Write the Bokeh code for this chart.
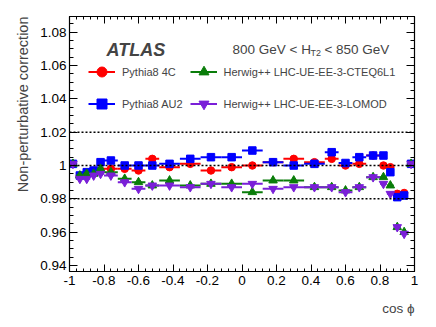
import numpy as np
from bokeh.plotting import figure
from bokeh.models import (Range1d, LinearAxis, FixedTicker, Span, Label, Legend,
                          LegendItem, Title, ColumnDataSource, CustomJSTickFormatter)
from bokeh.embed import file_html
from bokeh.resources import INLINE

# ---------------- data ----------------
bin_edges = [-1.0, -0.96, -0.92, -0.88, -0.84, -0.80, -0.72, -0.64, -0.56, -0.48,
             -0.36, -0.24, -0.12, 0.0, 0.12, 0.24, 0.36, 0.48, 0.56, 0.64, 0.72,
             0.80, 0.84, 0.88, 0.92, 0.96, 1.0]

pythia8_4c = [1.001, 0.994, 0.995, 0.996, 0.997, 0.998, 0.998, 0.997, 1.004, 0.999,
              1.001, 0.997, 0.999, 1.000, 1.002, 1.004, 1.002, 1.004, 1.000, 1.001,
              1.006, 1.000, 0.999, 0.983, 0.9835, 1.001]
pythia8_au2 = [1.001, 0.994, 0.996, 0.997, 1.002, 1.003, 1.000, 1.000, 1.000, 1.001,
               1.004, 1.005, 1.005, 1.009, 1.002, 1.000, 1.001, 1.008, 1.0015, 1.005,
               1.006, 1.006, 0.996, 0.981, 0.982, 1.001]
herwig_cteq = [1.001, 0.994, 0.995, 0.995, 0.998, 0.996, 0.992, 0.990, 0.988, 0.991,
               0.988, 0.989, 0.989, 0.984, 0.991, 0.991, 0.987, 0.987, 0.985, 0.987,
               0.993, 0.993, 0.988, 0.963, 0.960, 1.001]
herwig_lomod = [1.001, 0.992, 0.992, 0.994, 0.995, 0.994, 0.990, 0.986, 0.988, 0.988,
                0.987, 0.989, 0.987, 0.989, 0.986, 0.987, 0.987, 0.987, 0.984, 0.987,
                0.993, 0.989, 0.983, 0.963, 0.959, 1.001]
stat_err = [0.0012, 0.0010, 0.0010, 0.0010, 0.0010, 0.0010, 0.0008, 0.0008, 0.0008, 0.0008,
            0.0008, 0.0008, 0.0008, 0.0008, 0.0008, 0.0008, 0.0008, 0.0008, 0.0008, 0.0008,
            0.0008, 0.0010, 0.0010, 0.0015, 0.0015, 0.0012]

series_labels = ["Pythia8 4C", "Pythia8 AU2",
                 "Herwig++ LHC-UE-EE-3-CTEQ6L1", "Herwig++ LHC-UE-EE-3-LOMOD"]
y_ticks = [0.94, 0.96, 0.98, 1.0, 1.02, 1.04, 1.06, 1.08]
x_ticks = [-1, -0.8, -0.6, -0.4, -0.2, 0, 0.2, 0.4, 0.6, 0.8, 1]

# ---------------- style ----------------
FONT = "Liberation Sans"
colors = ["#ff0000", "#0000ff", "#0a7d0a", "#7a1fd8"]
markers = ["circle", "square", "triangle", "inverted_triangle"]
msizes = [7.5, 7.5, 8.5, 8.5]

edges = np.array(bin_edges)
xc = 0.5 * (edges[:-1] + edges[1:])
hw = 0.5 * (edges[1:] - edges[:-1])
err = np.array(stat_err)

p = figure(width=428, height=327, output_backend="svg", toolbar_location=None,
           x_range=Range1d(-1, 1), y_range=Range1d(0.93634, 1.0895),
           min_border_left=69, min_border_right=14, min_border_top=16,
           min_border_bottom=56)
p.grid.visible = False
p.outline_line_color = "black"
p.outline_line_width = 1.2
p.background_fill_color = "white"
p.border_fill_color = "white"

fmt = CustomJSTickFormatter(code="return String(Number(tick.toFixed(3)));")
blank = CustomJSTickFormatter(code="return '';")

xt = FixedTicker(ticks=x_ticks, minor_ticks=list(np.round(np.arange(-1, 1.0001, 0.04), 3)))
yt = FixedTicker(ticks=y_ticks, minor_ticks=list(np.round(np.arange(0.935, 1.09, 0.005), 4)))


def style_axis(ax, ticker, major_len, minor_len, formatter, fsize):
    ax.ticker = ticker
    ax.formatter = formatter
    ax.major_tick_in = major_len
    ax.major_tick_out = 0
    ax.minor_tick_in = minor_len
    ax.minor_tick_out = 0
    ax.axis_line_color = "black"
    ax.major_tick_line_color = "black"
    ax.minor_tick_line_color = "black"
    ax.major_label_text_font = FONT
    ax.major_label_text_font_size = fsize
    ax.major_label_text_color = "black"


style_axis(p.xaxis[0], xt, 7, 3, fmt, "13.5px")
p.xaxis[0].major_label_standoff = 4
style_axis(p.yaxis[0], yt, 8, 4, fmt, "13.5px")
p.yaxis[0].major_label_standoff = 3

top_ax = LinearAxis()
style_axis(top_ax, xt, 7, 3, blank, "1px")
top_ax.major_label_standoff = 0
p.add_layout(top_ax, "above")
right_ax = LinearAxis()
style_axis(right_ax, yt, 8, 4, blank, "1px")
right_ax.major_label_standoff = 0
p.add_layout(right_ax, "right")

for lvl in [0.98, 1.0, 1.02]:
    p.add_layout(Span(location=lvl, dimension="width", line_color="black",
                      line_dash="2 2", line_width=1.4))

items = []
for vals, col, mk, ms, lab in zip([pythia8_4c, pythia8_au2, herwig_cteq, herwig_lomod],
                                  colors, markers, msizes, series_labels):
    y = np.array(vals)
    src = ColumnDataSource(dict(x=xc, y=y, x0=xc - hw, x1=xc + hw,
                                y0=y - err, y1=y + err))
    rh = p.segment(x0="x0", y0="y", x1="x1", y1="y", source=src,
                   line_color=col, line_width=2)
    p.segment(x0="x", y0="y0", x1="x", y1="y1", source=src,
              line_color=col, line_width=2)
    rs = p.scatter(x="x", y="y", source=src, marker=mk, size=ms,
                   fill_color=col, line_color=col)
    items.append(LegendItem(label=lab, renderers=[rh, rs]))

legend = Legend(items=items, location=(19, 155), nrows=2,
                border_line_color=None, background_fill_alpha=0,
                padding=0, margin=0, spacing=7,
                glyph_width=27, glyph_height=25, label_height=25,
                label_standoff=7, label_text_font=FONT,
                label_text_font_size="11px")
p.add_layout(legend)

p.add_layout(Label(x=-0.7855, y=1.0691, text="ATLAS", text_font=FONT,
                   text_font_style="bold italic", text_font_size="18px",
                   text_baseline="alphabetic"))
p.add_layout(Label(x=-0.055, y=1.0697, text="800 GeV < H", text_font=FONT,
                   text_font_size="13.5px", text_baseline="alphabetic"))
p.add_layout(Label(x=0.397, y=1.0676, text="T2", text_font=FONT,
                   text_font_size="9px", text_baseline="alphabetic"))
p.add_layout(Label(x=0.478, y=1.0697, text="< 850 GeV", text_font=FONT,
                   text_font_size="13.5px", text_baseline="alphabetic"))

p.add_layout(Title(text="Non-perturbative correction", align="right",
                   text_font=FONT, text_font_size="14.5px",
                   text_font_style="normal", standoff=14), "left")
p.add_layout(Title(text="cos ϕ", align="right", text_font=FONT,
                   text_font_size="13.5px", text_font_style="normal",
                   standoff=23), "below")

open("out.html", "w").write(file_html(p, INLINE))
